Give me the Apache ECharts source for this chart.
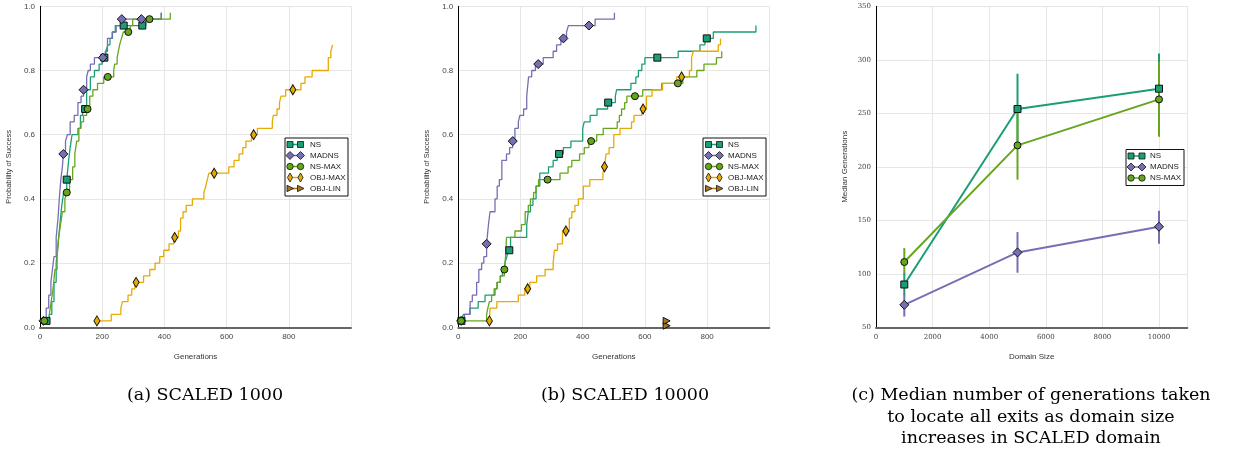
<!DOCTYPE html>
<html><head><meta charset="utf-8">
<script src="https://cdn.jsdelivr.net/npm/echarts@6/dist/echarts.min.js"></script>
<style>html,body{margin:0;padding:0;background:#fff}#c{width:1233px;height:452px}</style>
</head><body><div id="c"></div>
<script>
// ---------- DATA ----------
const seriesNames = ['NS', 'MADNS', 'NS-MAX', 'OBJ-MAX', 'OBJ-LIN'];
const probTicks = [0, 0.2, 0.4, 0.6, 0.8, 1.0];
const genTicks = [0, 200, 400, 600, 800];

// (a) SCALED 1000 : [generation, probability of success]
const aNS = [[21,0.02],[30,0.04],[38,0.08],[45,0.14],[52,0.2],[58,0.26],[64,0.32],[70,0.38],[76,0.42],[86,0.46],[92,0.52],[97,0.56],[103,0.6],[122,0.62],[130,0.66],[137,0.68],[150,0.74],[162,0.78],[175,0.8],[190,0.82],[200,0.84],[212,0.86],[218,0.88],[225,0.9],[233,0.92],[242,0.94],[340,0.96],[390,0.98]];
const aMADNS = [[11,0.02],[20,0.06],[28,0.1],[35,0.14],[40,0.18],[45,0.22],[52,0.28],[58,0.34],[62,0.4],[67,0.46],[72,0.5],[75,0.54],[82,0.58],[88,0.6],[97,0.64],[110,0.66],[122,0.7],[132,0.72],[140,0.74],[150,0.78],[155,0.8],[162,0.82],[175,0.84],[210,0.86],[217,0.9],[232,0.92],[245,0.94],[260,0.96],[390,0.98]];
const aNSMAX = [[14,0.02],[30,0.04],[36,0.08],[42,0.12],[48,0.18],[55,0.22],[60,0.28],[66,0.32],[72,0.36],[80,0.4],[86,0.42],[95,0.46],[105,0.5],[112,0.54],[118,0.58],[125,0.62],[132,0.64],[140,0.66],[150,0.68],[160,0.72],[170,0.74],[185,0.76],[205,0.78],[237,0.8],[240,0.82],[248,0.84],[252,0.86],[256,0.88],[262,0.9],[268,0.92],[290,0.94],[298,0.96],[419,0.98]];
const aOBJMAX = [[183,0.02],[229,0.04],[260,0.06],[265,0.08],[283,0.1],[295,0.12],[305,0.14],[333,0.16],[353,0.18],[370,0.2],[385,0.22],[398,0.24],[415,0.26],[430,0.28],[445,0.3],[452,0.34],[460,0.36],[470,0.38],[490,0.4],[527,0.42],[533,0.44],[538,0.46],[543,0.48],[607,0.5],[624,0.52],[640,0.54],[652,0.56],[662,0.58],[680,0.6],[699,0.62],[747,0.64],[750,0.66],[762,0.68],[770,0.7],[775,0.72],[790,0.74],[839,0.76],[852,0.78],[875,0.8],[927,0.84],[935,0.86],[941,0.88]];
const aOBJLIN = [];
const aNSmarks = [[21,0.02],[86,0.46],[145,0.68],[207,0.84],[269,0.94],[329,0.94]];
const aMADNSmarks = [[11,0.02],[75,0.54],[140,0.74],[202,0.84],[263,0.96],[326,0.96]];
const aNSMAXmarks = [[14,0.02],[86,0.42],[153,0.68],[218,0.78],[284,0.92],[352,0.96]];
const aOBJMAXmarks = [[183,0.02],[309,0.14],[433,0.28],[560,0.48],[687,0.6],[813,0.74]];
const aOBJLINmarks = [];

// (b) SCALED 10000
const bNS = [[10,0.02],[16,0.04],[37,0.06],[64,0.08],[86,0.1],[118,0.12],[125,0.14],[135,0.16],[142,0.18],[150,0.2],[156,0.22],[161,0.24],[168,0.28],[220,0.32],[225,0.36],[232,0.38],[240,0.4],[250,0.44],[262,0.48],[290,0.5],[305,0.52],[318,0.54],[338,0.56],[362,0.58],[400,0.62],[405,0.64],[424,0.66],[446,0.68],[480,0.7],[505,0.72],[509,0.74],[555,0.76],[571,0.78],[579,0.8],[590,0.82],[600,0.84],[707,0.86],[777,0.88],[793,0.9],[820,0.92],[957,0.94]];
const bMADNS = [[9,0.02],[20,0.04],[38,0.08],[45,0.1],[59,0.14],[66,0.18],[75,0.2],[82,0.22],[91,0.26],[97,0.32],[102,0.36],[118,0.4],[125,0.44],[132,0.46],[140,0.52],[155,0.54],[165,0.56],[175,0.58],[182,0.62],[193,0.64],[198,0.66],[210,0.68],[220,0.72],[226,0.78],[236,0.8],[248,0.82],[273,0.84],[305,0.86],[316,0.88],[330,0.9],[348,0.92],[354,0.94],[440,0.96],[502,0.98]];
const bNSMAX = [[9,0.02],[91,0.04],[95,0.06],[100,0.08],[107,0.1],[115,0.12],[124,0.14],[135,0.16],[148,0.18],[152,0.22],[155,0.28],[182,0.3],[203,0.32],[215,0.36],[225,0.38],[232,0.4],[242,0.42],[250,0.44],[258,0.46],[327,0.48],[353,0.5],[365,0.52],[390,0.54],[405,0.56],[420,0.58],[445,0.6],[466,0.62],[511,0.64],[518,0.66],[525,0.68],[535,0.7],[542,0.72],[593,0.74],[654,0.76],[722,0.78],[767,0.8],[790,0.82],[830,0.84],[847,0.86]];
const bOBJMAX = [[100,0.02],[102,0.06],[124,0.08],[193,0.1],[214,0.12],[230,0.14],[252,0.16],[279,0.18],[305,0.2],[309,0.24],[319,0.26],[335,0.3],[357,0.34],[365,0.36],[375,0.38],[386,0.4],[402,0.44],[423,0.46],[465,0.48],[470,0.5],[475,0.54],[485,0.56],[500,0.6],[520,0.62],[557,0.64],[565,0.66],[590,0.68],[605,0.72],[623,0.74],[657,0.76],[702,0.78],[743,0.8],[750,0.84],[756,0.86],[836,0.88],[843,0.9]];
const bOBJLIN = [[670,0.005],[670,0.02]];
const bNSmarks = [[10,0.02],[164,0.24],[324,0.54],[482,0.7],[640,0.84],[799,0.9]];
const bMADNSmarks = [[9,0.02],[91,0.26],[175,0.58],[257,0.82],[338,0.9],[420,0.94]];
const bNSMAXmarks = [[9,0.02],[148,0.18],[287,0.46],[427,0.58],[568,0.72],[706,0.76]];
const bOBJMAXmarks = [[100,0.02],[223,0.12],[346,0.3],[470,0.5],[594,0.68],[718,0.78]];
const bOBJLINmarks = [[670,0.005],[670,0.02]];

// (c) median generations vs domain size
const domainSizes = [1000, 5000, 10000];
const cNS = [90, 254, 273];
const cNSlow = [80, 222, 239];
const cNShigh = [101, 287, 306];
const cMADNS = [71, 120, 144];
const cMADNSlow = [60, 101, 128];
const cMADNShigh = [81, 139, 159];
const cNSMAX = [111, 220, 263];
const cNSMAXlow = [100, 188, 228];
const cNSMAXhigh = [124, 250, 298];

// ---------- STYLE ----------
const COLORS = ['#1b9e77', '#7570b3', '#66a61e', '#e6ab02', '#a6761d'];
const SYMBOLS = ['rect', 'diamond', 'circle', 'diamond', 'triangle'];
const SYMSIZE = [7, 9, 7, [6, 10], 7];
const SYMROT = [0, 0, 0, 0, -90];
const SANS = "'Liberation Sans', Arial, sans-serif";
const SERIF = "'DejaVu Serif', serif";

const chart = echarts.init(document.getElementById('c'), null, {renderer: 'canvas'});

function probAxes(gi) {
  return {
    x: {type: 'value', gridIndex: gi, min: 0, max: 1000, interval: 200,
      name: 'Generations', nameLocation: 'middle', nameGap: 25,
      nameTextStyle: {fontFamily: SANS, fontSize: 8, color: '#333'},
      axisLine: {show: true, onZero: false, lineStyle: {color: '#666', width: 2}},
      axisTick: {show: false},
      axisLabel: {fontFamily: SANS, fontSize: 8, color: '#444', margin: 5,
        formatter: v => genTicks.indexOf(v) >= 0 ? String(v) : ''},
      splitLine: {show: true, lineStyle: {color: '#e6e6e6', width: 1}}},
    y: {type: 'value', gridIndex: gi, min: 0, max: 1, interval: 0.2,
      name: 'Probability of Success', nameLocation: 'middle', nameGap: 27,
      nameTextStyle: {fontFamily: SANS, fontSize: 7.5, color: '#333'},
      axisLine: {show: true, onZero: false, lineStyle: {color: '#000', width: 1}},
      axisTick: {show: false},
      axisLabel: {fontFamily: SANS, fontSize: 8, color: '#444', margin: 5,
        formatter: v => probTicks.some(t => Math.abs(t - v) < 1e-9) ? v.toFixed(1) : ''},
      splitLine: {show: true, lineStyle: {color: '#e6e6e6', width: 1}}}
  };
}

const A = probAxes(0), B = probAxes(1);
const xAxes = [A.x, B.x, {
  type: 'value', gridIndex: 2, min: 0, max: 11000, interval: 2000,
  name: 'Domain Size', nameLocation: 'middle', nameGap: 25,
  nameTextStyle: {fontFamily: SANS, fontSize: 8, color: '#333'},
  axisLine: {show: true, onZero: false, lineStyle: {color: '#666', width: 2}},
  axisTick: {show: false},
  axisLabel: {fontFamily: SERIF, fontSize: 7, color: '#444', margin: 6,
    formatter: v => (v % 2000 === 0 && v <= 10000) ? String(v) : ''},
  splitLine: {show: true, lineStyle: {color: '#e6e6e6', width: 1}}
}];
const yAxes = [A.y, B.y, {
  type: 'value', gridIndex: 2, min: 50, max: 350, interval: 50,
  name: 'Median Generations', nameLocation: 'middle', nameGap: 27,
  nameTextStyle: {fontFamily: SANS, fontSize: 8, color: '#333'},
  axisLine: {show: true, onZero: false, lineStyle: {color: '#000', width: 1}},
  axisTick: {show: false},
  axisLabel: {fontFamily: SERIF, fontSize: 7, color: '#444', margin: 5},
  splitLine: {show: true, lineStyle: {color: '#e6e6e6', width: 1}}
}];

const series = [];
function addPanel(gi, lines, marks) {
  lines.forEach((d, i) => {
    if (!d.length) return;
    series.push({type: 'line', name: seriesNames[i], xAxisIndex: gi, yAxisIndex: gi,
      data: d, step: 'end', showSymbol: false, symbol: 'none', silent: true,
      lineStyle: {color: COLORS[i], width: 1.3}, z: 2, animation: false});
  });
  marks.forEach((d, i) => {
    if (!d.length) return;
    series.push({type: 'scatter', name: seriesNames[i], xAxisIndex: gi, yAxisIndex: gi,
      data: d, symbol: SYMBOLS[i], symbolSize: SYMSIZE[i], symbolRotate: SYMROT[i],
      itemStyle: {color: COLORS[i], borderColor: '#111', borderWidth: 1, opacity: 1},
      z: 4, animation: false, silent: true});
  });
}
addPanel(0, [aNS, aMADNS, aNSMAX, aOBJMAX, aOBJLIN], [aNSmarks, aMADNSmarks, aNSMAXmarks, aOBJMAXmarks, aOBJLINmarks]);
addPanel(1, [bNS, bMADNS, bNSMAX, bOBJMAX, bOBJLIN], [bNSmarks, bMADNSmarks, bNSMAXmarks, bOBJMAXmarks, bOBJLINmarks]);

const cMeans = [cNS, cMADNS, cNSMAX];
const cLows = [cNSlow, cMADNSlow, cNSMAXlow];
const cHighs = [cNShigh, cMADNShigh, cNSMAXhigh];
cMeans.forEach((m, i) => {
  const col = COLORS[i];
  series.push({type: 'custom', name: seriesNames[i] + ' err', xAxisIndex: 2, yAxisIndex: 2,
    data: domainSizes.map((x, k) => [x, cLows[i][k], cHighs[i][k]]),
    encode: {x: 0, y: [1, 2]}, z: 2, silent: true, animation: false,
    renderItem: (params, api) => {
      const p1 = api.coord([api.value(0), api.value(1)]);
      const p2 = api.coord([api.value(0), api.value(2)]);
      return {type: 'line', shape: {x1: p1[0], y1: p1[1], x2: p2[0], y2: p2[1]},
        style: {stroke: col, lineWidth: 2}};
    }});
});
cMeans.forEach((m, i) => {
  series.push({type: 'line', name: seriesNames[i], xAxisIndex: 2, yAxisIndex: 2,
    data: domainSizes.map((x, k) => [x, m[k]]),
    symbol: SYMBOLS[i], symbolSize: i === 1 ? 9 : 7, showSymbol: true,
    lineStyle: {color: COLORS[i], width: 2},
    itemStyle: {color: COLORS[i], borderColor: '#111', borderWidth: 1},
    z: 3, animation: false, silent: true});
});

// ---------- LEGENDS & CAPTIONS (graphic) ----------
function legendSym(i, cx, cy) {
  const c = COLORS[i], st = {fill: c, stroke: '#111', lineWidth: 0.8};
  if (i === 0) return {type: 'rect', shape: {x: cx - 3, y: cy - 3, width: 6, height: 6}, style: st};
  if (i === 1) return {type: 'polygon', shape: {points: [[cx, cy - 4], [cx + 4, cy], [cx, cy + 4], [cx - 4, cy]]}, style: st};
  if (i === 2) return {type: 'circle', shape: {cx: cx, cy: cy, r: 3.2}, style: st};
  if (i === 3) return {type: 'polygon', shape: {points: [[cx, cy - 4.5], [cx + 2.6, cy], [cx, cy + 4.5], [cx - 2.6, cy]]}, style: st};
  return {type: 'polygon', shape: {points: [[cx - 3, cy - 3.2], [cx + 3.5, cy], [cx - 3, cy + 3.2]]}, style: st};
}
function legend(x, y, w, n, m1, m2, tx) {
  const els = [{type: 'rect', shape: {x: x, y: y, width: w, height: 11 * n + 3},
    style: {fill: '#fff', stroke: '#111', lineWidth: 1}, z: 10}];
  for (let i = 0; i < n; i++) {
    const cy = y + 6.5 + i * 11;
    els.push({type: 'line', shape: {x1: x + m1, y1: cy, x2: x + m2, y2: cy}, style: {stroke: COLORS[i], lineWidth: 1.5}, z: 11});
    const s1 = legendSym(i, x + m1, cy); s1.z = 12; els.push(s1);
    const s2 = legendSym(i, x + m2, cy); s2.z = 12; els.push(s2);
    els.push({type: 'text', x: x + tx, y: cy, z: 12,
      style: {text: seriesNames[i], font: '8px ' + SANS, fill: '#222', textVerticalAlign: 'middle', verticalAlign: 'middle'}});
  }
  return els;
}
function caption(cx, cy, txt) {
  return {type: 'text', x: cx, y: cy, z: 12,
    style: {text: txt, font: '17.5px ' + SERIF, fill: '#000', textAlign: 'center', align: 'center', textVerticalAlign: 'middle', verticalAlign: 'middle'}};
}
const graphics = [].concat(
  legend(285, 138, 63, 5, 5, 15.5, 25),
  legend(703, 138, 63, 5, 5.5, 16.5, 25),
  legend(1126, 149.5, 58, 3, 5, 16, 24),
  [caption(205, 395, '(a) SCALED 1000'),
   caption(625, 395, '(b) SCALED 10000'),
   caption(1031, 395, '(c) Median number of generations taken'),
   caption(1031, 417, 'to locate all exits as domain size'),
   caption(1031, 438, 'increases in SCALED domain')]
);

chart.setOption({
  animation: false,
  backgroundColor: '#fff',
  grid: [
    {left: 40, top: 6.3, width: 311, height: 321},
    {left: 458.3, top: 6.3, width: 311, height: 321},
    {left: 876, top: 6.3, width: 311.3, height: 321}
  ],
  xAxis: xAxes,
  yAxis: yAxes,
  series: series,
  graphic: graphics
});
</script></body></html>
